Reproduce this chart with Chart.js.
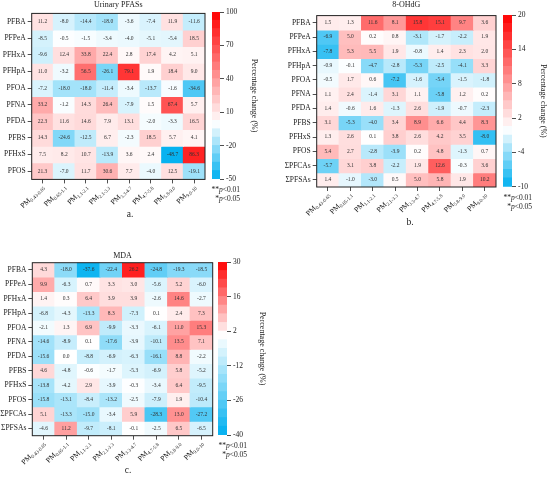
<!DOCTYPE html>
<html>
<head>
<meta charset="utf-8">
<script src="https://cdn.jsdelivr.net/npm/chart.js@4.4.1/dist/chart.umd.min.js"></script>
<style>
  html, body { margin: 0; padding: 0; background: #fff; }
  body { width: 550px; height: 477px; position: relative; overflow: hidden; }
  canvas { position: absolute; }
</style>
</head>
<body>
<canvas id="heatA" width="208" height="222" style="left:0;top:0"></canvas>
<canvas id="barA" width="53" height="215" style="left:206px;top:0"></canvas>
<canvas id="heatB" width="215" height="230" style="left:285px;top:0"></canvas>
<canvas id="barB" width="51" height="225" style="left:497px;top:0"></canvas>
<canvas id="heatC" width="216" height="252" style="left:0;top:225px"></canvas>
<canvas id="barC" width="55" height="252" style="left:212px;top:225px"></canvas>
<script>
// PM size bins (µm), shown as subscripts of "PM"
const pmBins = ['0.43-0.65', '0.65-1.1', '1.1-2.1', '2.1-3.3', '3.3-4.7', '4.7-5.8', '5.8-9.0', '9.0-10'];

const rowsUrinary = ['PFBA', 'PFPeA', 'PFHxA', 'PFHpA', 'PFOA', 'PFNA', 'PFDA', 'PFBS', 'PFHxS', 'PFOS'];
const rowsBiomarker = ['PFBA', 'PFPeA', 'PFHxA', 'PFHpA', 'PFOA', 'PFNA', 'PFDA', 'PFBS', 'PFHxS', 'PFOS', 'ΣPFCAs', 'ΣPFSAs'];

// percentage change, one row per compound, one column per PM bin
const urinaryChange = [
  [11.2, -8.0, -14.4, -18.0, -3.6, -7.4, 11.9, -11.6],
  [-8.5, -0.5, -1.5, -3.4, -4.0, -5.1, -5.4, 18.5],
  [-9.6, 12.4, 33.8, 22.4, 2.8, 17.4, 4.2, 5.1],
  [11.0, -3.2, 56.5, -26.1, 79.1, 1.9, 18.4, 9.0],
  [-7.2, -18.0, -18.0, -11.4, -3.4, -13.7, -1.6, -34.6],
  [33.2, -1.2, 14.3, 26.4, -7.9, 1.5, 67.4, 5.7],
  [22.3, 11.6, 14.6, 7.9, 13.1, -2.0, -3.3, 16.5],
  [14.3, -24.6, -12.5, 6.7, -2.3, 18.5, 5.7, 4.1],
  [7.5, 8.2, 10.7, -13.9, 3.6, 2.4, -48.7, 86.3],
  [21.3, -7.0, 11.7, 30.6, 7.7, -4.0, 12.5, -19.1]
];

const ohdgChange = [
  [1.5, 1.3, 11.6, 8.1, 15.8, 15.1, 9.7, 3.6],
  [-6.9, 5.0, 0.2, 0.8, -3.1, -1.7, -2.2, 1.9],
  [-7.8, 5.3, 5.5, 1.9, -0.8, 1.4, 2.3, 2.0],
  [-0.9, -0.1, -4.7, -2.8, -5.3, -2.5, -4.1, 3.3],
  [-0.5, 1.7, 0.6, -7.2, -1.6, -5.4, -1.5, -1.8],
  [1.1, 2.4, -1.4, 3.1, 1.1, -5.8, 1.2, 0.2],
  [1.4, -0.6, 1.6, -1.3, 2.6, -1.9, -0.7, -2.3],
  [3.1, -5.3, -4.0, 3.4, 8.9, 6.6, 4.4, 8.3],
  [1.3, 2.6, 0.1, 3.8, 2.6, 4.2, 3.5, -8.0],
  [5.4, 2.7, -2.8, -3.9, 0.2, 4.8, -1.3, 0.7],
  [-5.7, 3.1, 3.8, -2.2, 1.9, 12.6, -0.3, 3.6],
  [1.4, -1.0, -3.0, 0.5, 5.0, 5.8, 1.9, 10.2]
];

const mdaChange = [
  [4.3, -18.0, -37.6, -22.4, 26.2, -24.8, -19.3, -18.5],
  [9.9, -6.3, 0.7, 3.3, 3.0, -5.6, 5.2, -6.0],
  [1.4, 0.3, 6.4, 3.9, 3.9, -2.6, 14.6, -2.7],
  [-6.8, -4.3, -13.3, 8.3, -7.3, 0.1, 2.4, 7.3],
  [-2.1, 1.3, 6.9, -9.9, -3.3, -6.1, 11.0, 15.3],
  [-14.6, -8.9, 0.1, -17.6, -3.9, -10.1, 13.5, 7.1],
  [-15.6, 0.0, -8.8, -6.9, -6.3, -16.1, 8.8, -2.2],
  [4.6, -4.8, -0.6, -1.7, -5.3, -6.9, 5.8, -5.2],
  [-13.8, -4.2, 2.9, -3.9, -0.3, -3.4, 6.4, -9.5],
  [-15.8, -13.1, -8.4, -13.2, -2.5, -7.9, 1.9, -10.4],
  [5.1, -13.3, -15.0, -3.4, 5.9, -28.3, 13.0, -27.2],
  [-4.6, 11.2, -9.7, -8.1, -0.1, -2.5, 6.5, -6.5]
];

// colour bar ticks, top to bottom
const urinaryTicks = [100, 70, 40, 10, -20, -50];
const ohdgTicks = [20, 14, 8, 2, -4, -10];
const mdaTicks = [30, 16, 2, -12, -26, -40];

const SERIF = "'Liberation Serif', 'Times New Roman', serif";
const INK = '#1a1a1a';
const RED = [255, 0, 0];
const CYAN = [0, 176, 240];

function cellColor(v, lo, hi) {
  const t = v >= 0 ? Math.min(v / hi, 1) : Math.min(v / lo, 1);
  const end = v >= 0 ? RED : CYAN;
  const c = end.map(e => Math.round(255 + (e - 255) * t));
  return `rgb(${c.join(',')})`;
}

const heatLabels = {
  id: 'heatLabels',
  afterDatasetsDraw(chart, args, opts) {
    const ctx = chart.ctx;
    ctx.save();
    ctx.font = `5.5px ${SERIF}`;
    ctx.fillStyle = '#333';
    ctx.textAlign = 'center';
    ctx.textBaseline = 'middle';
    chart.data.datasets.forEach((ds, r) => {
      chart.getDatasetMeta(r).data.forEach((bar, c) => {
        ctx.fillText(opts.values[r][c].toFixed(1), bar.x, (bar.y + bar.base) / 2);
      });
    });
    ctx.restore();
  },
  afterDraw(chart, args, opts) {
    const { ctx, chartArea: a } = chart;
    ctx.save();
    ctx.strokeStyle = '#222';
    ctx.lineWidth = 1;
    ctx.strokeRect(a.left, a.top, a.right - a.left, a.bottom - a.top);

    ctx.fillStyle = INK;
    ctx.font = `8px ${SERIF}`;
    ctx.textAlign = 'center';
    ctx.textBaseline = 'middle';
    ctx.fillText(opts.title, (a.left + a.right) / 2, opts.titleY);

    // rotated PM labels with subscripts
    const xs = chart.scales.x;
    pmBins.forEach((bin, i) => {
      const x = xs.getPixelForTick(i);
      ctx.save();
      ctx.translate(x + 2, a.bottom + 8);
      ctx.rotate(-Math.PI / 4);
      ctx.textAlign = 'right';
      ctx.textBaseline = 'alphabetic';
      ctx.font = `5px ${SERIF}`;
      const w = ctx.measureText(bin).width;
      ctx.fillText(bin, 0, 1.5);
      ctx.font = `7.5px ${SERIF}`;
      ctx.fillText('PM', -w, 0);
      ctx.restore();
    });

    ctx.font = `9.5px ${SERIF}`;
    ctx.textAlign = 'center';
    ctx.fillText(opts.letter, opts.letterX, opts.letterY);
    ctx.restore();
  }
};

function heatmap(id, rows, values, ticks, lay) {
  const hi = ticks[0], lo = ticks[ticks.length - 1];
  const tickGrid = { offset: false, drawOnChartArea: false, tickLength: 4, color: '#222', tickWidth: 0.8 };
  return new Chart(document.getElementById(id), {
    type: 'bar',
    data: {
      labels: pmBins,
      datasets: rows.map((name, r) => ({
        label: name,
        yAxisID: 'y',
        data: values[r].map(() => [r, r + 1]),
        backgroundColor: values[r].map(v => cellColor(v, lo, hi)),
        borderWidth: 0,
        inflateAmount: 0.5,
        barPercentage: 1,
        categoryPercentage: 1,
        grouped: false
      }))
    },
    options: {
      responsive: false,
      animation: false,
      events: [],
      layout: { padding: lay.padding },
      plugins: {
        legend: { display: false },
        tooltip: { enabled: false },
        heatLabels: { values, title: lay.title, titleY: lay.titleY, letter: lay.letter, letterX: lay.letterX, letterY: lay.letterY }
      },
      scales: {
        x: {
          type: 'category', offset: true,
          grid: tickGrid, border: { display: false },
          ticks: { display: false },
          afterFit(s) { s.height = lay.xHeight; }
        },
        y: { type: 'linear', min: 0, max: rows.length, reverse: true, display: false },
        rows: {
          type: 'category', axis: 'y', labels: rows, position: 'left', offset: true,
          grid: tickGrid, border: { display: false },
          ticks: { font: { family: SERIF, size: 7.5 }, color: INK, padding: 2 },
          afterFit(s) { s.width = lay.yWidth; }
        }
      }
    },
    plugins: [heatLabels]
  });
}

function drawRich(ctx, parts, xRight, y) {
  const size = 7.5;
  const widths = parts.map(p => {
    ctx.font = `${p.italic ? 'italic ' : ''}${size}px ${SERIF}`;
    return ctx.measureText(p.t).width;
  });
  let x = xRight - widths.reduce((s, w) => s + w, 0);
  parts.forEach((p, i) => {
    ctx.font = `${p.italic ? 'italic ' : ''}${size}px ${SERIF}`;
    ctx.fillText(p.t, x, y);
    x += widths[i];
  });
}

const pNote = {
  id: 'pNote',
  afterDraw(chart) {
    const { ctx, chartArea: a } = chart;
    ctx.save();
    ctx.fillStyle = INK;
    ctx.textAlign = 'left';
    ctx.textBaseline = 'middle';
    drawRich(ctx, [{ t: '**' }, { t: 'p', italic: true }, { t: '<0.01' }], a.right + 20, a.bottom + 11);
    drawRich(ctx, [{ t: '*' }, { t: 'p', italic: true }, { t: '<0.05' }], a.right + 20, a.bottom + 20);
    ctx.restore();
  }
};

function colorbar(id, ticks, lay) {
  const hi = ticks[0], lo = ticks[ticks.length - 1];
  const n = 20, step = (hi - lo) / n;
  const bands = Array.from({ length: n }, (_, k) => [lo + k * step, lo + (k + 1) * step]);
  return new Chart(document.getElementById(id), {
    type: 'bar',
    data: {
      labels: [''],
      datasets: bands.map(b => ({
        data: [b],
        backgroundColor: cellColor((b[0] + b[1]) / 2, lo, hi),
        borderWidth: 0,
        inflateAmount: 0.5,
        barPercentage: 1,
        categoryPercentage: 1,
        grouped: false
      }))
    },
    options: {
      responsive: false,
      animation: false,
      events: [],
      layout: { padding: lay.padding },
      plugins: { legend: { display: false }, tooltip: { enabled: false } },
      scales: {
        x: { display: false },
        y: {
          position: 'right', min: lo, max: hi,
          afterBuildTicks(s) { s.ticks = ticks.map(v => ({ value: v })); },
          grid: { drawOnChartArea: false, tickLength: 4, color: '#222', tickWidth: 0.8 },
          border: { display: false },
          ticks: { font: { family: SERIF, size: 7.5 }, color: INK, padding: 2 },
          title: { display: true, text: 'Percentage change (%)', font: { family: SERIF, size: 8 }, color: INK, padding: 0 },
          afterFit(s) { s.width = lay.axisWidth; }
        }
      }
    },
    plugins: [pNote]
  });
}

heatmap('heatA', rowsUrinary, urinaryChange, urinaryTicks, {
  padding: { top: 13.4, right: 3, left: 0, bottom: 0 }, yWidth: 31.7, xHeight: 42.6,
  title: 'Urinary PFASs', titleY: 5, letter: 'a.', letterX: 130, letterY: 214
});
colorbar('barA', urinaryTicks, { padding: { top: 12, left: 6, right: 0, bottom: 36 }, axisWidth: 39 });

heatmap('heatB', rowsBiomarker, ohdgChange, ohdgTicks, {
  padding: { top: 15.6, right: 4, left: 0, bottom: 0 }, yWidth: 31.7, xHeight: 43,
  title: '8-OHdG', titleY: 5, letter: 'b.', letterX: 125, letterY: 222
});
colorbar('barB', ohdgTicks, { padding: { top: 15, left: 6, right: 0, bottom: 38.3 }, axisWidth: 36 });

heatmap('heatC', rowsBiomarker, mdaChange, mdaTicks, {
  padding: { top: 37.7, right: 3.3, left: 0, bottom: 0 }, yWidth: 32.3, xHeight: 41.3,
  title: 'MDA', titleY: 31, letter: 'c.', letterX: 128, letterY: 245
});
colorbar('barC', mdaTicks, { padding: { top: 37, left: 6, right: 0, bottom: 42 }, axisWidth: 40 });
</script>
</body>
</html>
